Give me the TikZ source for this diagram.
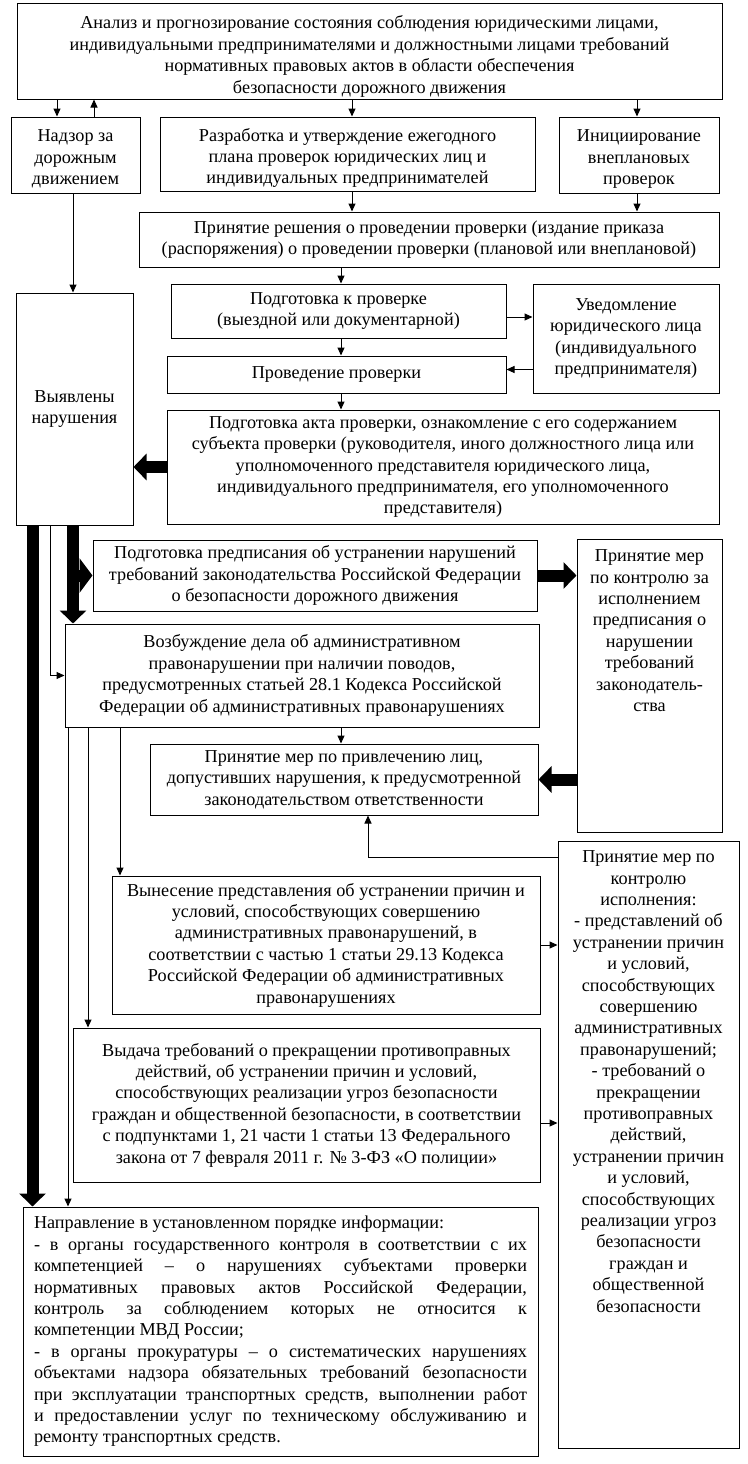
\documentclass[tikz,border=0pt]{standalone}
\usepackage{fontspec}
\setmainfont{Liberation Serif}
\usetikzlibrary{arrows.meta, positioning}
\newcommand{\boxfont}{\fontsize{18.2}{21.4}\selectfont}

\tikzset{
  box/.style={draw, line width=1pt, align=center, font=\boxfont, inner sep=2pt},
  txt/.style={align=center, font=\boxfont, inner sep=0pt},
  arr/.style={line width=1pt, -{Triangle[length=8pt,width=7pt]}},
  fatarr/.style={line width=12pt, -{Triangle[length=13pt,width=26pt]}},
  fatbranch/.style={line width=12pt, -{Triangle[length=13pt,width=34pt]}},
}

\begin{document}
\begin{tikzpicture}[x=1pt, y=-1pt]
    \useasboundingbox (0,0) rectangle (747,1464);

    % ---- lanes for the vertical links ----
    \coordinate (laneA) at (32.5,0);
    \coordinate (laneB) at (50.5,0);
    \coordinate (laneC) at (68,0);
    \coordinate (laneD) at (88,0);
    \coordinate (laneE) at (120,0);
    \coordinate (laneF) at (368,857);
    \coordinate (laneG) at (57,0);
    \coordinate (laneH) at (94,0);
    \coordinate (laneI) at (352,0);
    \coordinate (laneJ) at (637,0);
    \coordinate (laneK) at (73,0);
    \coordinate (laneL) at (341,0);
    \coordinate (laneY) at (0,1123);

    % ---- TOP ----
    \node[box, minimum width=705pt, minimum height=95pt,
          label={[txt, yshift=-5pt]center:{Анализ и прогнозирование состояния соблюдения юридическими лицами,\\
         индивидуальными предпринимателями и должностными лицами требований\\
         нормативных правовых актов в области обеспечения\\
         безопасности дорожного движения}}] (anal) at (369.5,51.5) {};
    \node[box, minimum width=129pt, minimum height=76pt,
          label={[txt, yshift=-4pt]center:{Надзор за\\дорожным\\движением}}] (nadzor) at (75.5,155) {};
    \node[box, minimum width=375pt, minimum height=74pt,
          label={[txt, yshift=-4pt]center:{Разработка и утверждение ежегодного\\
         плана проверок юридических лиц и\\
         индивидуальных предпринимателей}}] (razrab) at (347.5,154) {};
    \node[box, minimum width=160pt, minimum height=76pt,
          label={[txt, yshift=-4pt]center:{Инициирование\\внеплановых\\проверок}}] (inic) at (639,155) {};

    % ---- PROVERKA ----
    \node[box, minimum width=580pt, minimum height=55pt] (reshen) at (429,239.5)
        {Принятие решения о проведении проверки (издание приказа\\
         (распоряжения) о проведении проверки (плановой или внеплановой)};
    \node[box, minimum width=335pt, minimum height=54pt] (podgot) at (338.5,311)
        {Подготовка к проверке\\(выездной или документарной)};
    \node[box, minimum width=186pt, minimum height=109pt] (uvedom) at (626,338.5)
        {Уведомление\\юридического лица\\(индивидуального\\предпринимателя)};
    \node[box, minimum width=339pt, minimum height=37pt] (proved) at (336.5,374.5)
        {Проведение проверки};
    \node[box, minimum width=552pt, minimum height=114pt] (akt) at (443,467)
        {Подготовка акта проверки, ознакомление с его содержанием\\
         субъекта проверки (руководителя, иного должностного лица или\\
         уполномоченного представителя юридического лица,\\
         индивидуального предпринимателя, его уполномоченного\\
         представителя)};
    \node[box, minimum width=117pt, minimum height=232pt] (vyyavl) at (74.5,409)
        {Выявлены\\нарушения};

    % ---- MERY ----
    \node[box, minimum width=444pt, minimum height=71pt] (predpis) at (315,575.5)
        {Подготовка предписания об устранении нарушений\\
         требований законодательства Российской Федерации\\
         о безопасности дорожного движения};
    \node[box, minimum width=145pt, minimum height=293pt] (kontrolA) at (649.5,685.5) {};
    \node[txt, anchor=north] (kontrolAtxt) at ([yshift=-11pt]kontrolA.north)
        {Принятие мер\\по контролю за\\исполнением\\предписания о\\нарушении\\
         требований\\законодатель-\\ства};
    \node[box, minimum width=474pt, minimum height=103pt] (vozbuzh) at (302,675.5)
        {Возбуждение дела об административном\\
         правонарушении при наличии поводов,\\
         предусмотренных статьей 28.1 Кодекса Российской\\
         Федерации об административных правонарушениях};
    \node[box, minimum width=388pt, minimum height=71pt] (privlech) at (344,779.5)
        {Принятие мер по привлечению лиц,\\
         допустивших нарушения, к предусмотренной\\
         законодательством ответственности};
    \node[box, minimum width=428pt, minimum height=138pt] (vynesen) at (326,945)
        {Вынесение представления об устранении причин и\\
         условий, способствующих совершению\\
         административных правонарушений, в\\
         соответствии с частью 1 статьи 29.13 Кодекса\\
         Российской Федерации об административных\\
         правонарушениях};
    \node[box, minimum width=467pt, minimum height=154pt] (vydacha) at (306.5,1105)
        {Выдача требований о прекращении противоправных\\
         действий, об устранении причин и условий,\\
         способствующих реализации угроз безопасности\\
         граждан и общественной безопасности, в соответствии\\
         с подпунктами 1, 21 части 1 статьи 13 Федерального\\
         закона от 7 февраля 2011 г. № 3-ФЗ «О полиции»};
    \node[box, minimum width=181pt, minimum height=607pt] (kontrolB) at (648.5,1144.5) {};
    \node[txt, anchor=north] (kontrolBtxt) at ([yshift=-10pt]kontrolB.north)
        {Принятие мер по\\контролю\\исполнения:\\- представлений об\\
         устранении причин\\и условий,\\способствующих\\совершению\\
         административных\\правонарушений;\\- требований о\\прекращении\\
         противоправных\\действий,\\устранении причин\\и условий,\\
         способствующих\\реализации угроз\\безопасности\\граждан и\\
         общественной\\безопасности};
    \node[box, align=justify, text width=493pt, inner xsep=11pt,
          minimum height=249pt] (naprav) at (280.5,1331.5)
        {Направление в установленном порядке информации:\\
         - в органы государственного контроля в соответствии с их\linebreak
         компетенцией – о нарушениях субъектами проверки\linebreak
         нормативных правовых актов Российской Федерации,\linebreak
         контроль за соблюдением которых не относится к\linebreak
         компетенции МВД России;\\
         - в органы прокуратуры – о систематических нарушениях\linebreak
         объектами надзора обязательных требований безопасности\linebreak
         при эксплуатации транспортных средств, выполнении работ\linebreak
         и предоставлении услуг по техническому обслуживанию и\linebreak
         ремонту транспортных средств.};

    % ---- thin links ----
    \draw[arr] (anal.south -| laneG) -- (nadzor.north -| laneG);
    \draw[arr] (nadzor.north -| laneH) -- (anal.south -| laneH);
    \draw[arr] (anal.south -| laneI) -- (razrab.north -| laneI);
    \draw[arr] (anal.south -| laneJ) -- (inic.north -| laneJ);
    \draw[arr] (nadzor.south -| laneK) -- (vyyavl.north -| laneK);
    \draw[arr] (razrab.south -| laneI) -- (reshen.north -| laneI);
    \draw[arr] (inic.south -| laneJ) -- (reshen.north -| laneJ);
    \draw[arr] (reshen.south -| laneL) -- (podgot.north -| laneL);
    \draw[arr] (podgot.south -| laneL) -- (proved.north -| laneL);
    \draw[arr] (proved.south -| laneL) -- (akt.north -| laneL);
    \coordinate (pu) at ([yshift=-6pt]podgot.east);
    \draw[arr] (pu) -- (pu -| uvedom.west);
    \coordinate (up) at ([yshift=5pt]proved.east);
    \draw[arr] (up -| uvedom.west) -- (up);
    \draw[arr] (vyyavl.south -| laneB) |- (vozbuzh.west);
    \draw[arr] (vozbuzh.south -| laneL) -- (privlech.north -| laneL);
    \draw[arr] (vozbuzh.south -| laneC) -- (naprav.north -| laneC);
    \draw[arr] (vozbuzh.south -| laneD) -- (vydacha.north -| laneD);
    \draw[arr] (vozbuzh.south -| laneE) -- (vynesen.north -| laneE);
    \draw[arr] (kontrolB.west |- laneF) -| (privlech.south -| laneF);
    \draw[arr] (vynesen.east) -- (vynesen.east -| kontrolB.west);
    \draw[arr] (vydacha.east |- laneY) -- (kontrolB.west |- laneY);

    % ---- thick links ----
    \draw[fatarr] (akt.west) -- (akt.west -| vyyavl.east);
    \draw[fatarr] (vyyavl.south -| laneA) -- (naprav.north -| laneA);
    \draw[fatarr] (vyyavl.south -| laneK) -- (vozbuzh.north -| laneK);
    \draw[fatbranch] (predpis.west -| laneK) -- (predpis.west);
    \draw[fatarr] (predpis.east) -- (predpis.east -| kontrolA.west);
    \draw[fatarr] (privlech.east -| kontrolA.west) -- (privlech.east);
\end{tikzpicture}
\end{document}
